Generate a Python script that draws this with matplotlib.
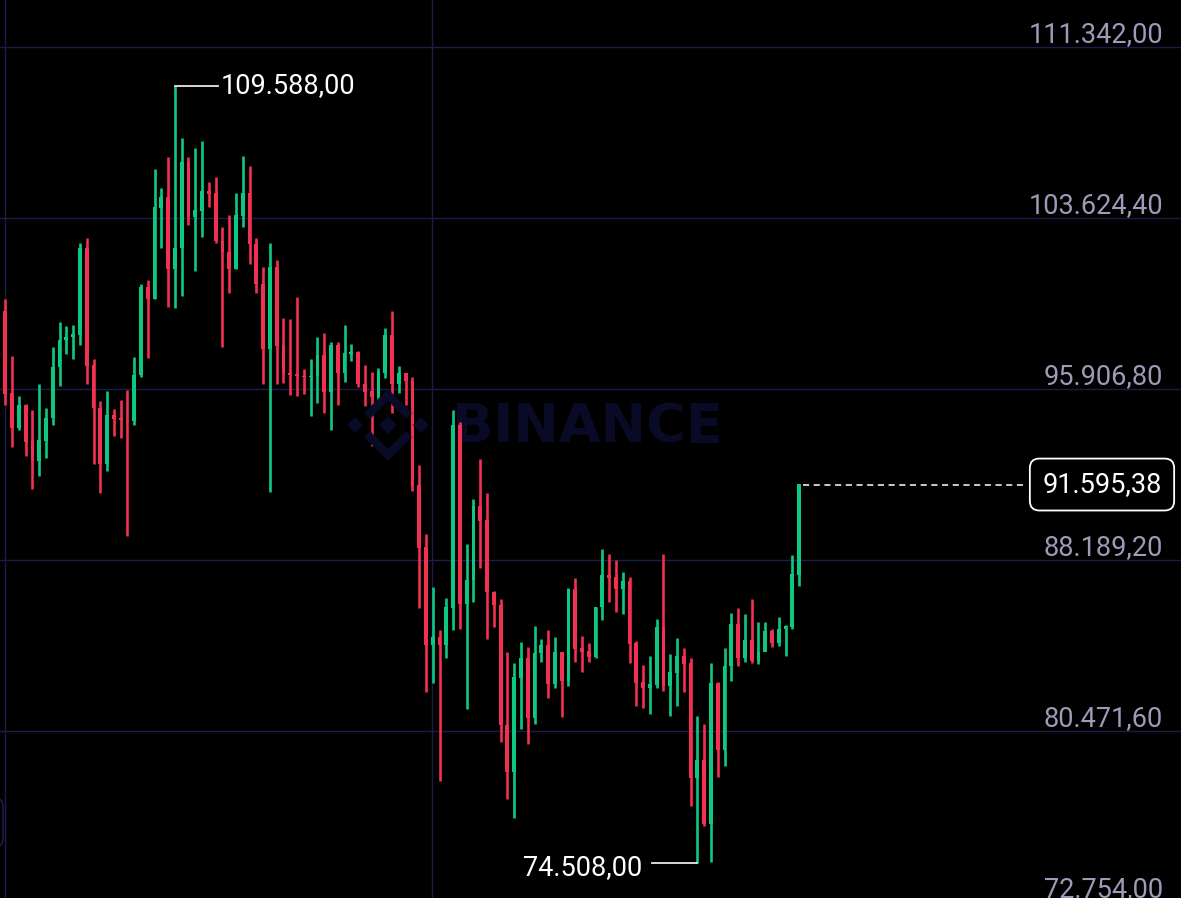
import numpy as np
import matplotlib
matplotlib.use("Agg")
import matplotlib.pyplot as plt
from matplotlib import transforms
from matplotlib.patches import Polygon, FancyBboxPatch

plt.rcParams["font.family"] = ["Roboto", "DejaVu Sans"]

# daily BTC/USDT candles, 26 Dec 2024 -> 22 Apr 2025
opens = [99400, 95700, 94160, 95160, 93530, 92640, 93580, 94590, 96890, 98100,
         98240, 98360, 102240, 96950, 95040, 92500, 94700, 94560, 94500, 94470,
         96530, 100500, 99990, 104080, 104550, 101330, 102260, 106140, 103650, 103960,
         104820, 104710, 102580, 102080, 101330, 103730, 104730, 102430, 100640, 97690,
         101400, 97870, 96610, 96550, 96480, 96470, 96480, 97430, 95780, 97870,
         96620, 97500, 97570, 96120, 95770, 95540, 96630, 98330, 96130, 96580,
         96250, 91550, 88740, 84350, 84700, 84350, 86030, 94270, 86220, 87280,
         90600, 89960, 86740, 86150, 80730, 78600, 82860, 83720, 81070, 83980,
         84340, 82580, 84010, 82720, 86850, 84170, 84040, 83830, 86050, 87500,
         87390, 86900, 87230, 84420, 82650, 82390, 82550, 85160, 82520, 83100,
         83840, 83500, 78370, 79140, 76270, 82620, 79610, 83400, 85280, 83760,
         84540, 83630, 84030, 84950, 84460, 85060, 85170, 87510]
highs = [99963, 97400, 95600, 95250, 94950, 96150, 95050, 97800, 98950, 98750,
         98800, 102480, 102700, 97250, 95350, 95800, 95000, 95400, 95850, 97350,
         100650, 100830, 105850, 104990, 106380, 109588, 107240, 106380, 106800, 107100,
         105250, 105480, 103220, 103760, 104750, 106430, 105970, 102720, 101420, 102500,
         101730, 99120, 99070, 100060, 96810, 97260, 98250, 98430, 98030, 98030,
         98790, 97940, 97620, 96990, 96670, 96850, 98660, 99430, 96950, 96630,
         96450, 92480, 89360, 86970, 85030, 86480, 94960, 94400, 88910, 90940,
         92750, 91210, 86790, 86430, 84040, 83540, 84490, 84260, 85210, 84620,
         85030, 84710, 84040, 86930, 87380, 84760, 84440, 86080, 88690, 88460,
         88190, 87650, 87420, 84530, 83450, 83860, 85530, 88460, 83950, 84670,
         84220, 83770, 81150, 80790, 83540, 82680, 84220, 85800, 86020, 85750,
         86430, 85390, 85390, 85080, 85620, 85260, 88420, 91640]
lows = [95200, 93300, 94050, 92900, 91400, 92000, 92800, 94300, 96050, 97500,
        97250, 97900, 96150, 92500, 91200, 92200, 93800, 93700, 89250, 94300,
        96470, 97300, 99950, 102280, 99600, 99550, 100100, 103300, 101250, 102750,
        104100, 102500, 97780, 100250, 101320, 103220, 101550, 100250, 96150, 91240,
        96150, 96160, 95650, 95600, 95690, 94700, 95280, 94830, 94070, 95200,
        96230, 97180, 96000, 95150, 93340, 95000, 96400, 94830, 95730, 95200,
        91300, 86030, 82230, 82640, 78220, 83770, 85030, 85080, 81460, 86300,
        87830, 84620, 85170, 79980, 77400, 76550, 80560, 79880, 80790, 83590,
        81960, 82410, 81100, 82500, 83590, 83140, 83590, 83770, 85480, 86300,
        85840, 85750, 83540, 81600, 81510, 81240, 82410, 82280, 81150, 81600,
        82230, 77090, 74508, 76190, 74560, 78400, 78890, 82730, 83400, 83590,
        83540, 83490, 84170, 84260, 84310, 83860, 85080, 87020]
closes = [95700, 94160, 95160, 93530, 92640, 93580, 94590, 96890, 98100, 98240,
          98360, 102240, 96950, 95040, 92500, 94700, 94560, 94500, 94470, 96530,
          100500, 99990, 104080, 104550, 101330, 102260, 106140, 103650, 103960, 104820,
          104710, 102580, 102080, 101330, 103730, 104730, 102430, 100640, 97690, 101400,
          97870, 96610, 96550, 96480, 96470, 96480, 97430, 95780, 97870, 96620,
          97500, 97570, 96120, 95770, 95540, 96630, 98330, 96130, 96580, 96250,
          91550, 88740, 84350, 84700, 84350, 86030, 94270, 86220, 87280, 90600,
          89960, 86740, 86150, 80730, 78600, 82860, 83720, 81070, 83980, 84340,
          82580, 84010, 82720, 86850, 84170, 84040, 83830, 86050, 87500, 87390,
          86900, 87230, 84420, 82650, 82390, 82550, 85160, 82520, 83100, 83840,
          83500, 78370, 79140, 76270, 82620, 79610, 83400, 85280, 83760, 84540,
          83630, 84030, 84950, 84460, 85060, 85170, 87510, 91595.38]

price_ticks = [111342.00, 103624.40, 95906.80, 88189.20, 80471.60, 72754.00]
tick_labels = ["111.342,00", "103.624,40", "95.906,80", "88.189,20", "80.471,60", "72.754,00"]
high_label = "109.588,00"
low_label = "74.508,00"
last_label = "91.595,38"

GREEN = "#0ec882"
RED = "#f2304f"
GRID = "#1d1a4c"
BG = "#000000"

W, H = 1181, 898
x0, dx = 5.3, 6.785                 # pixel of first candle, pixels per candle
ppp = (111342.0 - 103624.4) / 171.0  # price per pixel

fig = plt.figure(figsize=(W / 100, H / 100), dpi=100, facecolor=BG)
ax = fig.add_axes([0, 0, 1, 1], facecolor=BG)
ax.set_xlim(-x0 / dx, (W - x0) / dx)
ax.set_ylim(111342.0 - (H - 47) * ppp, 111342.0 + 47 * ppp)
ax.axis("off")

def pix(px, py):
    # image pixel (top-left origin) -> display coords
    return (px, H - py)

# grid
for p in price_ticks:
    ax.axhline(p, color=GRID, lw=1.0, zorder=0)
for gx in [0, (432 - x0) / dx]:
    ax.axvline(gx, color=GRID, lw=1.0, zorder=0)

# watermark
wm = "#090b26"
ax.text(587 / W, 1 - 427 / H, "BINANCE", transform=ax.transAxes, color=wm,
        fontsize=39, fontweight="bold", family="DejaVu Sans",
        ha="center", va="center", zorder=0.5)
def diamond(cx, cy, r):
    return [pix(cx - r, cy), pix(cx, cy - r), pix(cx + r, cy), pix(cx, cy + r)]
for cx, cy, r in [(355, 425, 8), (388, 425, 9), (421, 425, 8)]:
    fig.patches.append(Polygon(diamond(cx, cy, r), closed=True, fc=wm, ec="none",
                               transform=None, zorder=0.5))
for sgn in (1, -1):
    cy = 425 + sgn * 12
    pts = [pix(364, cy), pix(388, cy + sgn * 24), pix(412, cy),
           pix(406, cy - sgn * 6), pix(388, cy + sgn * 12), pix(370, cy - sgn * 6)]
    fig.patches.append(Polygon(pts, closed=True, fc=wm, ec="none", transform=None, zorder=0.5))

# candles
idx = np.arange(len(opens))
o = np.array(opens); h = np.array(highs); l = np.array(lows); c = np.array(closes)
colors = np.where(c >= o, GREEN, RED)
ax.vlines(idx, l, h, colors=colors, lw=1.9, zorder=2)
ax.bar(idx, np.abs(c - o) + 0.6 * ppp, bottom=np.minimum(o, c), width=0.56,
       color=colors, linewidth=0, zorder=3)

# price scale labels
lab_tr = transforms.offset_copy(transforms.blended_transform_factory(ax.transAxes, ax.transData),
                                fig=fig, x=0, y=5, units="dots")
for p, s in zip(price_ticks, tick_labels):
    ax.text(1163 / W, p, s, transform=lab_tr, color="#9e9ab8", fontsize=19.5,
            ha="right", va="baseline", clip_on=False, zorder=5)

# high / low markers
hi = int(np.argmax(h)); lo = int(np.argmin(l))
ax.plot([hi, hi + 43 / dx], [h[hi], h[hi]], color="#e8e8e8", lw=1.3, zorder=4)
ax.text(hi + 46 / dx, h[hi], high_label, color="white", fontsize=19.5,
        ha="left", va="center", zorder=5)
ax.plot([lo - 45 / dx, lo], [l[lo], l[lo]], color="#e8e8e8", lw=1.3, zorder=4)
low_tr = transforms.offset_copy(ax.transData, fig=fig, x=0, y=-4, units="dots")
ax.text(lo - 55 / dx, l[lo], low_label, transform=low_tr, color="white", fontsize=19.5,
        ha="right", va="center", zorder=5)

# last price line and box
last = len(c) - 1
ax.plot([last + 0.6, (1025 - x0) / dx], [c[last], c[last]], color="white", lw=1.1,
        ls=(0, (4, 3)), zorder=4)
ax.text((1102 - x0) / dx, c[last], last_label, color="white", fontsize=19.5,
        ha="center", va="center", zorder=6,
        bbox=dict(boxstyle="round,pad=0.46,rounding_size=0.35", fc=BG, ec="white", lw=1.3))

# partial UI box on left edge
fig.patches.append(FancyBboxPatch((-40, H - 848), 43, 51, boxstyle="round,pad=0,rounding_size=10",
                                  fc="none", ec="#221e58", lw=1.0, transform=None, zorder=1))

fig.savefig("out.png", dpi=100, facecolor=BG)
